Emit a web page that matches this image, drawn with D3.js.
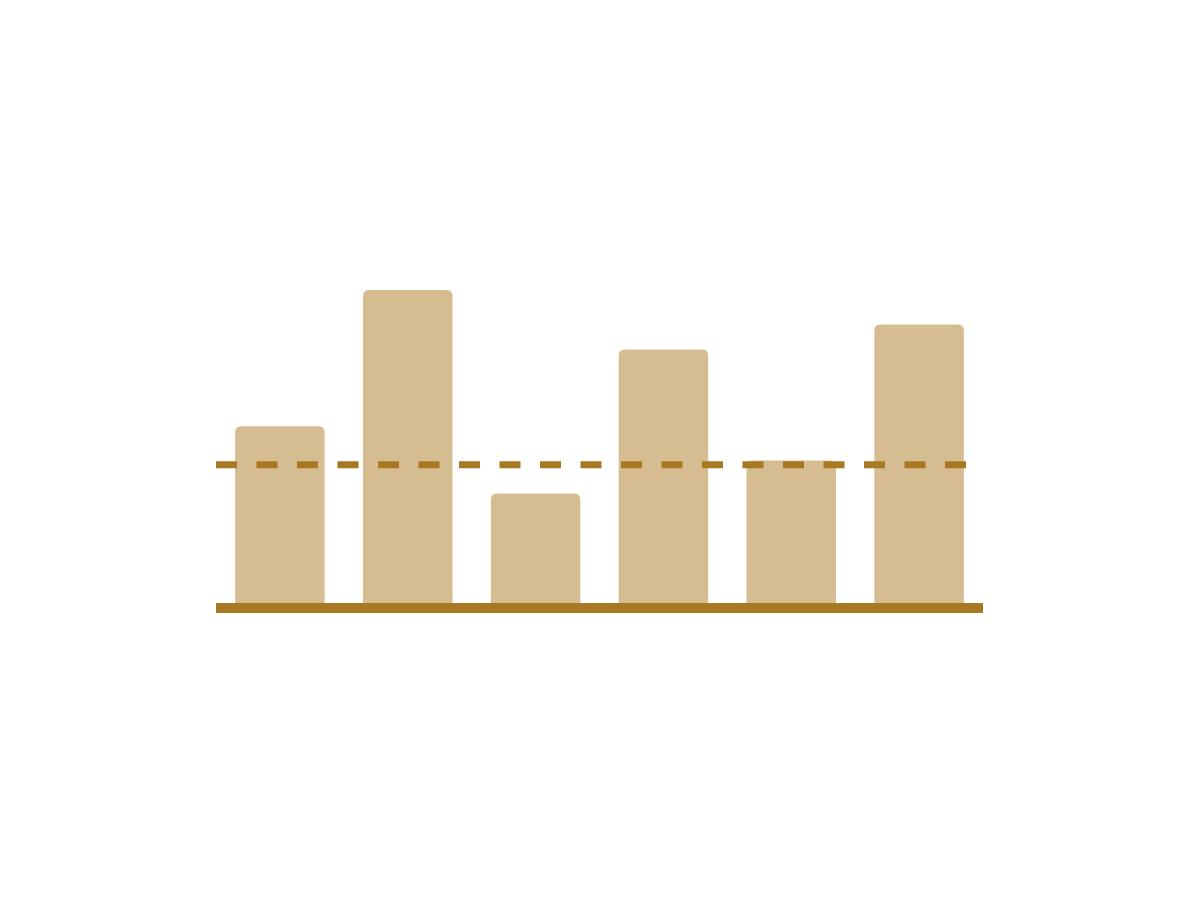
<!DOCTYPE html>
<html>
<head>
<meta charset="utf-8">
<script src="https://cdn.jsdelivr.net/npm/d3@7"></script>
<style>
  html, body { margin: 0; padding: 0; background: #fff; }
</style>
</head>
<body>
<svg id="chart"></svg>
<script>
const categories = ["A", "B", "C", "D", "E", "F"];
const values = [56.5, 100, 35, 81, 45.5, 89];
const target = 44.2;

const width = 1200, height = 900;
const barColor = "#D6BD91";
const lineColor = "#A97822";

const svg = d3.select("#chart")
  .attr("width", width)
  .attr("height", height);

const x = d3.scaleBand()
  .domain(categories)
  .range([216, 983])
  .paddingInner(0.3)
  .paddingOuter(0.15);

const y = d3.scaleLinear()
  .domain([0, 100])
  .range([603, 290]);

// bar with rounded top corners
const barPath = (x0, y0, w, h, r) => {
  r = Math.min(r, h);
  return `M${x0},${y0 + h}V${y0 + r}Q${x0},${y0} ${x0 + r},${y0}` +
    `H${x0 + w - r}Q${x0 + w},${y0} ${x0 + w},${y0 + r}V${y0 + h}Z`;
};

svg.append("g")
  .selectAll("path")
  .data(values)
  .join("path")
  .attr("fill", barColor)
  .attr("d", (d, i) => barPath(x(categories[i]), y(d), x.bandwidth(), y(0) - y(d), 6));

// target line
svg.append("line")
  .attr("x1", 216)
  .attr("x2", 967)
  .attr("y1", y(target))
  .attr("y2", y(target))
  .attr("stroke", lineColor)
  .attr("stroke-width", 7)
  .attr("stroke-dasharray", "21 19.5");

// baseline
svg.append("rect")
  .attr("x", 216)
  .attr("y", y(0))
  .attr("width", 983 - 216)
  .attr("height", 10)
  .attr("fill", lineColor);
</script>
</body>
</html>
